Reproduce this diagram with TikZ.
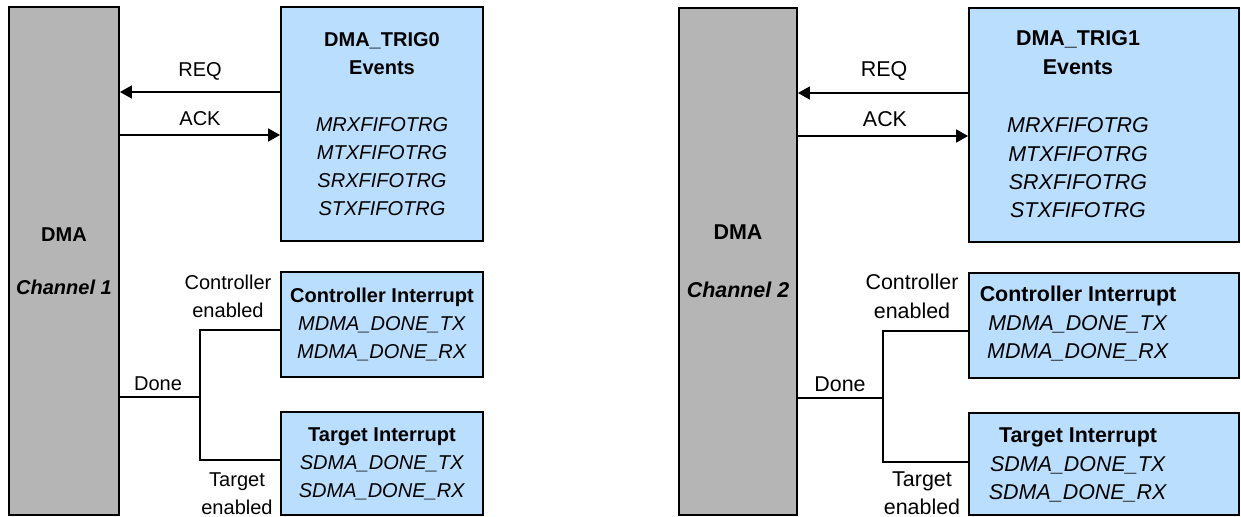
\documentclass[tikz,border=0pt]{standalone}
\usepackage{fontspec}
\setmainfont{Liberation Sans}
\usetikzlibrary{arrows.meta}
\definecolor{dmagray}{RGB}{181,181,181}
\definecolor{evblue}{RGB}{185,222,254}
\tikzset{
  chan/.style={draw,line width=1.1pt,fill=dmagray,inner sep=0pt,align=center},
  evbox/.style={draw,line width=1.1pt,fill=evblue,inner sep=0pt,align=center},
  evtext/.style={inner sep=0pt,align=center},
  wire/.style={line width=0.9pt},
  sig/.style={wire,-{Triangle[length=6.8pt,width=7.4pt]}},
  lbl/.style={inner sep=0pt,align=center},
}
\begin{document}
\begin{tikzpicture}[x=0.02cm,y=-0.02cm,font=\fontsize{11.4}{15.9}\selectfont]
\useasboundingbox (0,0) rectangle (1241,517);

% channel 1
\node[chan,minimum width=2.2cm,minimum height=10.16cm] (dma1) at (64,261) {\textbf{DMA}\\[14pt]\textbf{\textit{Channel 1}}};
\node[evbox,minimum width=4.04cm,minimum height=4.68cm] (trig0) at (382,124) {\textbf{DMA\_TRIG0}\\\textbf{Events}\\[17pt]\textit{MRXFIFOTRG}\\\textit{MTXFIFOTRG}\\\textit{SRXFIFOTRG}\\\textit{STXFIFOTRG}};
\node[evbox,minimum width=4.04cm,minimum height=2.1cm] (ctrl1) at (382,324.5) {\textbf{Controller Interrupt}\\\textit{MDMA\_DONE\_TX}\\\textit{MDMA\_DONE\_RX}};
\node[evbox,minimum width=4.04cm,minimum height=2.06cm] (tgt1) at (382,463.5) {\textbf{Target Interrupt}\\\textit{SDMA\_DONE\_TX}\\\textit{SDMA\_DONE\_RX}};

\coordinate (req1) at (200,92);
\coordinate (ack1) at (200,135);
\coordinate (done1) at (200,397);
\draw[sig] (trig0.west |- req1) -- (dma1.east |- req1);
\draw[sig] (dma1.east |- ack1) -- (trig0.west |- ack1);
\draw[wire] (dma1.east |- done1) -- (done1);
\draw[wire] ([yshift=-0.11cm]ctrl1.west) -| (done1) |- ([yshift=0.07cm]tgt1.west);

\node[lbl] (req1l) at (200,71) {REQ};
\node[lbl] (ack1l) at (200,119) {ACK};
\node[lbl] (done1l) at (158,384) {Done};
\node[lbl] (men1) at (228,296.5) {Controller\\enabled};
\node[lbl] (sen1) at (237,493.5) {Target\\enabled};

% channel 2
\begin{scope}[font=\fontsize{12.2}{16.2}\selectfont]
\node[chan,minimum width=2.36cm,minimum height=10.14cm] (dma2) at (738,261.5) {\textbf{DMA}\\[17pt]\textbf{\textit{Channel 2}}};
\node[evbox,minimum width=5.4cm,minimum height=4.68cm] (trig1) at (1104,125) {};
\node[evbox,minimum width=5.4cm,minimum height=2.1cm] (ctrl2) at (1104,325.5) {};
\node[evbox,minimum width=5.4cm,minimum height=2.04cm] (tgt2) at (1104,464) {};
\node[evtext] (trig1t) at (1078,124.5) {\textbf{DMA\_TRIG1}\\\textbf{Events}\\[17pt]\textit{MRXFIFOTRG}\\\textit{MTXFIFOTRG}\\\textit{SRXFIFOTRG}\\\textit{STXFIFOTRG}};
\node[evtext] (ctrl2t) at (1078,324) {\textbf{Controller Interrupt}\\\textit{MDMA\_DONE\_TX}\\\textit{MDMA\_DONE\_RX}};
\node[evtext] (tgt2t) at (1078,465) {\textbf{Target Interrupt}\\\textit{SDMA\_DONE\_TX}\\\textit{SDMA\_DONE\_RX}};

\coordinate (req2) at (884,93);
\coordinate (ack2) at (884,136);
\coordinate (done2) at (883,398);
\draw[sig] (trig1.west |- req2) -- (dma2.east |- req2);
\draw[sig] (dma2.east |- ack2) -- (trig1.west |- ack2);
\draw[wire] (dma2.east |- done2) -- (done2);
\draw[wire] ([yshift=-0.11cm]ctrl2.west) -| (done2) |- ([yshift=0.04cm]tgt2.west);

\node[lbl] (req2l) at (884,71) {REQ};
\node[lbl] (ack2l) at (885,119) {ACK};
\node[lbl] (done2l) at (840,384) {Done};
\node[lbl] (men2) at (912,296.5) {Controller\\enabled};
\node[lbl] (sen2) at (922,493) {Target\\enabled};
\end{scope}

\end{tikzpicture}
\end{document}
